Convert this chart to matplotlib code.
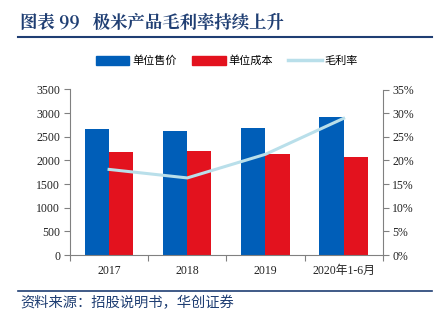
import matplotlib
matplotlib.use("Agg")
import matplotlib.pyplot as plt
from matplotlib.lines import Line2D
from matplotlib.patches import Patch
from matplotlib.ticker import FuncFormatter, FixedLocator
import numpy as np

plt.rcParams['font.family'] = ['Noto Sans CJK SC', 'DejaVu Sans']

categories = ["2017", "2018", "2019", "2020年1-6月"]
unit_price = [2664, 2628, 2685, 2918]
unit_cost = [2184, 2205, 2129, 2078]
gross_margin = [18.1, 16.3, 21.3, 28.9]

series_names = ["单位售价", "单位成本", "毛利率"]
title = "图表 99   极米产品毛利率持续上升"
source = "资料来源：招股说明书，华创证券"

blue = "#005EB8"
red = "#E3121E"
light = "#B9DFEA"
navy = "#1F3E73"
axis_gray = "#808080"

W, H = 445, 324
fig = plt.figure(figsize=(W / 100, H / 100), dpi=100)

ax = fig.add_axes([70 / W, 1 - 255 / H, (382.7 - 70) / W, (255 - 89.5) / H])
x = np.arange(len(categories))
bw = 0.31
ax.bar(x - bw / 2, unit_price, bw, color=blue, zorder=2)
ax.bar(x + bw / 2, unit_cost, bw, color=red, zorder=2)

ax.set_xlim(-0.5, len(categories) - 0.5)
ax.set_ylim(0, 3500)
ax.set_yticks(np.arange(0, 3501, 500))
ax.xaxis.set_major_locator(FixedLocator(np.arange(-0.5, len(categories), 1.0)))
ax.set_xticklabels([])
ax.xaxis.set_minor_locator(FixedLocator(x))
ax.set_xticklabels(categories, minor=True)
ax.tick_params(axis='x', which='minor', length=0, pad=7)
ax.tick_params(axis='x', which='major', length=4, color=axis_gray, direction='out')
ax.tick_params(axis='y', length=4, color=axis_gray, direction='out', pad=3)

serif = ['Liberation Serif', 'Noto Sans CJK SC']
for lbl in ax.get_yticklabels() + ax.get_xticklabels(minor=True):
    lbl.set_family(serif)
    lbl.set_fontsize(8.5)
    lbl.set_color("#222222")

for s in ["top", "right"]:
    ax.spines[s].set_visible(False)
ax.spines["left"].set_color(axis_gray)
ax.spines["bottom"].set_color(axis_gray)

ax2 = ax.twinx()
ax2.plot(x, gross_margin, color=light, lw=2.2, zorder=3)
ax2.set_ylim(0, 35)
ax2.set_yticks(np.arange(0, 36, 5))
ax2.yaxis.set_major_formatter(FuncFormatter(lambda v, p: f"{int(v)}%"))
ax2.tick_params(axis='y', length=4, color=axis_gray, direction='out', pad=3)
for lbl in ax2.get_yticklabels():
    lbl.set_family(serif)
    lbl.set_fontsize(8.5)
    lbl.set_color("#222222")
for s in ["top", "left", "bottom"]:
    ax2.spines[s].set_visible(False)
ax2.spines["right"].set_color(axis_gray)

handles = [Patch(color=blue), Patch(color=red), Line2D([0], [0], color=light, lw=2.5)]
fig.legend(handles, series_names, loc='center', bbox_to_anchor=(227 / W, 1 - 61 / H),
           ncol=3, frameon=False, fontsize=8, handlelength=3.0, handleheight=0.9,
           columnspacing=1.4, handletextpad=0.25)

fig.text(20 / W, 1 - 23 / H, title, fontsize=12.5, fontweight='bold', color=navy,
         va='center', ha='left', family=['Noto Serif CJK SC', 'Noto Sans CJK SC', 'DejaVu Sans'])
fig.add_artist(Line2D([18 / W, 432 / W], [1 - 37 / H, 1 - 37 / H], color=navy, lw=1.5))
fig.add_artist(Line2D([18 / W, 432 / W], [1 - 290.5 / H, 1 - 290.5 / H], color=navy, lw=1.2))
fig.text(20 / W, 1 - 303 / H, source, fontsize=10.3, color=navy, style='italic',
         va='center', ha='left')

fig.savefig("out.png", dpi=100)
